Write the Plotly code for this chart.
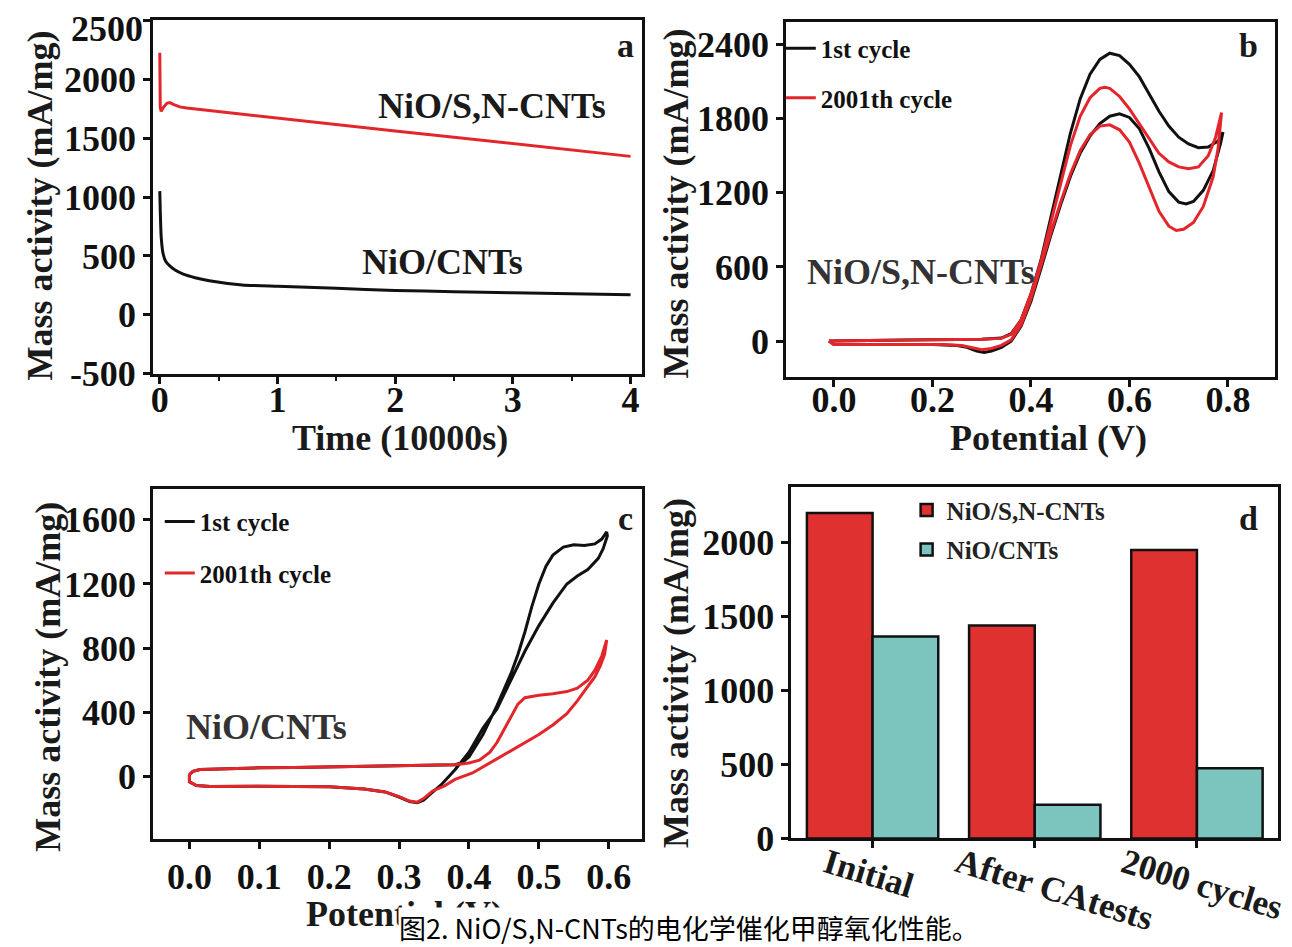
import plotly.graph_objects as go

W, H = 1292, 947

def X(px):
    return px / W

def Y(py):
    return 1 - py / H

# ---------------- Panel a: chronoamperometry ----------------
time_sn = [0, 0.004, 0.012, 0.03, 0.06, 0.085, 0.12, 0.17, 0.23, 0.5, 1.0, 1.5, 2.0, 2.5, 3.0, 3.5, 4.0]
act_sn = [2225, 1760, 1727, 1760, 1795, 1802, 1785, 1765, 1755, 1725, 1668, 1615, 1560, 1508, 1455, 1400, 1345]
time_cnt = [0, 0.005, 0.012, 0.028, 0.05, 0.085, 0.13, 0.2, 0.3, 0.42, 0.7, 1.0, 1.5, 2.0, 2.5, 3.0, 3.5, 4.0]
act_cnt = [1050, 850, 660, 520, 455, 415, 380, 345, 315, 290, 254, 242, 225, 207, 196, 187, 178, 171]
ticks_a_y = [-500, 0, 500, 1000, 1500, 2000, 2500]
ticks_a_y_text = ["-500", "0", "500", "1000", "1500", "2000", ""]
top_tick_a = "2500"

# ---------------- Panel b: CV of NiO/S,N-CNTs ----------------
pot_b_first = [-0.01, 0.05, 0.10, 0.15, 0.20, 0.25, 0.30, 0.34, 0.36, 0.38, 0.40, 0.42, 0.44, 0.46, 0.48,
               0.50, 0.52, 0.54, 0.56, 0.58, 0.60, 0.62, 0.64, 0.66, 0.68, 0.70, 0.72, 0.74, 0.76, 0.78, 0.79,
               0.785, 0.77, 0.75, 0.73, 0.715, 0.70, 0.68, 0.66, 0.64, 0.62, 0.60, 0.58, 0.56, 0.54, 0.52,
               0.50, 0.48, 0.46, 0.44, 0.42, 0.40, 0.38, 0.36, 0.34, 0.32, 0.305, 0.29, 0.27, 0.25, 0.20,
               0.10, 0.0, -0.01]
act_b_first = [0, 5, 8, 8, 10, 12, 15, 25, 60, 170, 380, 650, 1000, 1350, 1680,
               1960, 2160, 2280, 2330, 2310, 2240, 2140, 2000, 1860, 1740, 1650, 1595, 1565, 1570, 1620, 1690,
               1600, 1380, 1220, 1130, 1110, 1125, 1210, 1370, 1560, 1720, 1810, 1840, 1820, 1760, 1660,
               1520, 1330, 1100, 850, 580, 320, 120, 0, -50, -80, -92, -80, -50, -35, -28,
               -28, -28, 0]
pot_b_last = [-0.01, 0.05, 0.10, 0.15, 0.20, 0.25, 0.30, 0.34, 0.36, 0.38, 0.40, 0.42, 0.44, 0.46, 0.48,
              0.50, 0.52, 0.54, 0.55, 0.56, 0.58, 0.60, 0.62, 0.64, 0.66, 0.68, 0.70, 0.72, 0.74, 0.76, 0.775, 0.787,
              0.78, 0.77, 0.75, 0.73, 0.71, 0.695, 0.68, 0.66, 0.64, 0.62, 0.60, 0.58, 0.56, 0.54, 0.52,
              0.50, 0.48, 0.46, 0.44, 0.42, 0.40, 0.38, 0.36, 0.34, 0.32, 0.30, 0.28, 0.26, 0.22,
              0.10, 0.0, -0.01]
act_b_last = [0, 5, 8, 8, 10, 12, 15, 22, 55, 170, 380, 640, 960, 1280, 1580,
              1820, 1970, 2045, 2055, 2045, 1980, 1880, 1760, 1630, 1520, 1450, 1410, 1395, 1410, 1500, 1650, 1850,
              1560, 1330, 1090, 960, 905, 895, 930, 1050, 1240, 1440, 1610, 1710, 1750, 1740, 1670,
              1540, 1350, 1120, 870, 600, 340, 130, 10, -35, -60, -70, -55, -35, -28,
              -28, -28, 0]

# ---------------- Panel c: CV of NiO/CNTs ----------------
pot_c_first = [0.0, 0.005, 0.015, 0.05, 0.10, 0.15, 0.20, 0.25, 0.30, 0.35, 0.38, 0.39, 0.40, 0.42, 0.44,
               0.46, 0.47, 0.48, 0.49, 0.50, 0.51, 0.52, 0.535, 0.55, 0.565, 0.58, 0.59, 0.597,
               0.598, 0.592, 0.585, 0.57, 0.555, 0.54, 0.52, 0.50, 0.48, 0.46, 0.44, 0.42, 0.40, 0.38,
               0.36, 0.345, 0.335, 0.326, 0.315, 0.30, 0.28, 0.25, 0.20, 0.10, 0.03, 0.01, 0.0, 0.0]
act_c_first = [10, 30, 42, 48, 52, 55, 58, 61, 64, 68, 72, 85, 120, 260, 440,
               640, 760, 900, 1060, 1200, 1310, 1380, 1430, 1445, 1440, 1450, 1480, 1525,
               1500, 1420, 1360, 1290, 1250, 1200, 1080, 940, 780, 600, 420, 300, 150, 40,
               -55, -110, -150, -165, -158, -130, -98, -80, -66, -62, -65, -58, -35, 10]
pot_c_last = [0.0, 0.005, 0.015, 0.05, 0.10, 0.15, 0.20, 0.25, 0.30, 0.35, 0.38, 0.40, 0.415, 0.43, 0.44,
              0.45, 0.46, 0.47, 0.48, 0.50, 0.52, 0.54, 0.555, 0.57, 0.58, 0.59, 0.597,
              0.594, 0.588, 0.58, 0.57, 0.555, 0.54, 0.52, 0.50, 0.48, 0.46, 0.44, 0.43, 0.405, 0.38,
              0.365, 0.348, 0.335, 0.326, 0.315, 0.30, 0.28, 0.25, 0.20, 0.10, 0.03, 0.01, 0.0, 0.0]
act_c_last = [10, 30, 42, 48, 52, 55, 58, 61, 64, 68, 72, 82, 100, 150, 210,
              290, 370, 450, 490, 505, 515, 528, 550, 600, 660, 750, 850,
              760, 690, 620, 560, 470, 390, 320, 260, 210, 160, 110, 80, 20, -20,
              -60, -92, -140, -162, -155, -128, -98, -80, -66, -62, -65, -58, -35, 10]

# ---------------- Panel d: bar comparison ----------------
conditions = ["Initial", "After CAtests", "2000 cycles"]
bars_sn = [2200, 1440, 1950]
bars_cnt = [1365, 228, 475]

RED = "#e3262b"
BLACK = "#111111"
BAR_RED = "#e03131"
BAR_TEAL = "#7cc5be"
SERIF = "Liberation Serif"

fig = go.Figure()

# panel a
fig.add_trace(go.Scatter(x=time_sn, y=act_sn, mode="lines", line=dict(color=RED, width=3),
                         xaxis="x", yaxis="y", showlegend=False, name="NiO/S,N-CNTs"))
fig.add_trace(go.Scatter(x=time_cnt, y=act_cnt, mode="lines", line=dict(color=BLACK, width=3, shape="spline", smoothing=0.6),
                         xaxis="x", yaxis="y", showlegend=False, name="NiO/CNTs"))
# panel b
fig.add_trace(go.Scatter(x=pot_b_first, y=act_b_first, mode="lines", line=dict(color=BLACK, width=3),
                         xaxis="x2", yaxis="y2", name="1st cycle", legend="legend", legendgroup="b1"))
fig.add_trace(go.Scatter(x=pot_b_last, y=act_b_last, mode="lines", line=dict(color=RED, width=3),
                         xaxis="x2", yaxis="y2", name="2001th cycle", legend="legend", legendgroup="b2"))
# panel c
fig.add_trace(go.Scatter(x=pot_c_first, y=act_c_first, mode="lines", line=dict(color=BLACK, width=3),
                         xaxis="x3", yaxis="y3", name="1st cycle", legend="legend2", legendgroup="c1"))
fig.add_trace(go.Scatter(x=pot_c_last, y=act_c_last, mode="lines", line=dict(color=RED, width=3),
                         xaxis="x3", yaxis="y3", name="2001th cycle", legend="legend2", legendgroup="c2"))
# panel d
fig.add_trace(go.Bar(x=conditions, y=bars_sn, name="NiO/S,N-CNTs", xaxis="x4", yaxis="y4",
                     marker=dict(color=BAR_RED, line=dict(color=BLACK, width=2.5)),
                     legend="legend3", legendgroup="d1"))
fig.add_trace(go.Bar(x=conditions, y=bars_cnt, name="NiO/CNTs", xaxis="x4", yaxis="y4",
                     marker=dict(color=BAR_TEAL, line=dict(color=BLACK, width=2.5)),
                     legend="legend3", legendgroup="d2"))

tickfont = dict(family=SERIF, size=36, color=BLACK, weight="bold")

def axis(domain, anchor, **kw):
    d = dict(domain=domain, anchor=anchor, showline=True, linewidth=3, linecolor=BLACK,
             mirror=True, ticks="outside", ticklen=7, tickwidth=2.5, tickcolor=BLACK,
             showgrid=False, zeroline=False, tickfont=tickfont)
    d.update(kw)
    return d

xa_dom = [X(143.3), X(633.3)]
xb_dom = [X(777.3), X(1266.7)]
xd_dom = [X(782.7), X(1270)]
ya_dom = [Y(374), Y(12.5)]
yb_dom = [Y(377.3), Y(14)]
yc_dom = [Y(850), Y(491.7)]
yd_dom = [Y(849.3), Y(490)]

fig.update_layout(
    width=W, height=H,
    margin=dict(l=0, r=0, t=0, b=0),
    paper_bgcolor="white", plot_bgcolor="white",
    font=dict(family=SERIF, color=BLACK, weight="bold"),
    barmode="group", bargap=0.19, bargroupgap=0,
    xaxis=axis(xa_dom, "y", range=[-0.057, 4.1], tickvals=[0, 1, 2, 3, 4], ticklabelstandoff=-15,
               minor=dict(dtick=0.5, tick0=0, ticks="outside", ticklen=4, tickwidth=2, tickcolor=BLACK)),
    yaxis=axis(ya_dom, "x", range=[-500, 2501], tickvals=ticks_a_y, ticktext=ticks_a_y_text),
    xaxis2=axis(xb_dom, "y2", range=[-0.097, 0.895], tickvals=[0, 0.2, 0.4, 0.6, 0.8], tickformat=".1f",
                ticklabelstandoff=-18),
    yaxis2=axis(yb_dom, "x2", range=[-290, 2585], tickvals=[0, 600, 1200, 1800, 2400]),
    xaxis3=axis(xa_dom, "y3", range=[-0.052, 0.648], tickvals=[0, 0.1, 0.2, 0.3, 0.4, 0.5, 0.6], tickformat=".1f",
                ticklabelstandoff=-3),
    yaxis3=axis(yc_dom, "x3", range=[-393, 1794], tickvals=[0, 400, 800, 1200, 1600]),
    xaxis4=axis(xd_dom, "y4", range=[-0.5, 2.5], showticklabels=False),
    yaxis4=axis(yd_dom, "x4", range=[0, 2375], tickvals=[0, 500, 1000, 1500, 2000]),
    legend=dict(x=X(772), y=Y(18), xanchor="left", yanchor="top", bgcolor="rgba(0,0,0,0)",
                font=dict(family=SERIF, size=25, color=BLACK, weight="bold"), tracegroupgap=14,
                itemwidth=30),
    legend2=dict(x=X(150), y=Y(502), xanchor="left", yanchor="top", bgcolor="rgba(0,0,0,0)",
                 font=dict(family=SERIF, size=25, color=BLACK, weight="bold"), tracegroupgap=16,
                 itemwidth=30),
    legend3=dict(x=X(898), y=Y(490), xanchor="left", yanchor="top", bgcolor="rgba(0,0,0,0)",
                 font=dict(family=SERIF, size=25, color="#222222", weight="bold"), tracegroupgap=4,
                 itemwidth=30),
)

ann = []

def txt(x, y, s, size=36, angle=0, color="#1a1a1a", xref="paper", xshift=0, family=SERIF, weight="bold",
        bg=None, xanchor="center", yanchor="middle", height=None):
    a = dict(x=x, y=y, xref=xref, yref="paper", text=s, showarrow=False, textangle=angle,
             xanchor=xanchor, yanchor=yanchor, xshift=xshift,
             font=dict(family=family, size=size, color=color, weight=weight))
    if bg:
        a["bgcolor"] = bg
        a["borderpad"] = 0
    if height:
        a["height"] = height
    ann.append(a)

# top tick label of panel a (kept inside the page)
txt(X(135), 1.0, top_tick_a, size=36, color=BLACK, xanchor="right", yanchor="top", height=38)

# axis titles
txt(X(30), Y(202), "Mass activity (mA/mg)", angle=-90)
txt(X(391), Y(440), "Time (10000s)")
txt(X(667), Y(200), "Mass activity (mA/mg)", angle=-90)
txt(X(1040), Y(440), "Potential (V)")
txt(X(38), Y(684), "Mass activity (mA/mg)", angle=-90)
txt(X(395), Y(927), "Potential (V)")
txt(X(667), Y(680), "Mass activity (mA/mg)", angle=-90)

# in-panel labels
txt(X(483), Y(100), "NiO/S,N-CNTs")
txt(X(433), Y(260), "NiO/CNTs")
txt(X(616), Y(38), "a", size=34)
txt(X(912), Y(270), "NiO/S,N-CNTs", color="#333333")
txt(X(1240), Y(38), "b", size=34)
txt(X(257), Y(735), "NiO/CNTs", color="#333333")
txt(X(616), Y(522), "c", size=34)
txt(X(1240), Y(522), "d", size=34)

# rotated category labels for panel d
cat_y = [885, 902, 896]
cat_shift = [-4, 19, 5]
for c, yy, sh in zip(conditions, cat_y, cat_shift):
    txt(c, Y(yy), c, size=35, angle=17, xref="x4", xshift=sh)

# caption
txt(X(680), Y(940), "图2. NiO/S,N-CNTs的电化学催化甲醇氧化性能。", size=27, color="#000000",
    family="Noto Sans CJK SC", weight="normal", bg="white")

fig.update_layout(annotations=ann)

fig.write_html("out.html")
